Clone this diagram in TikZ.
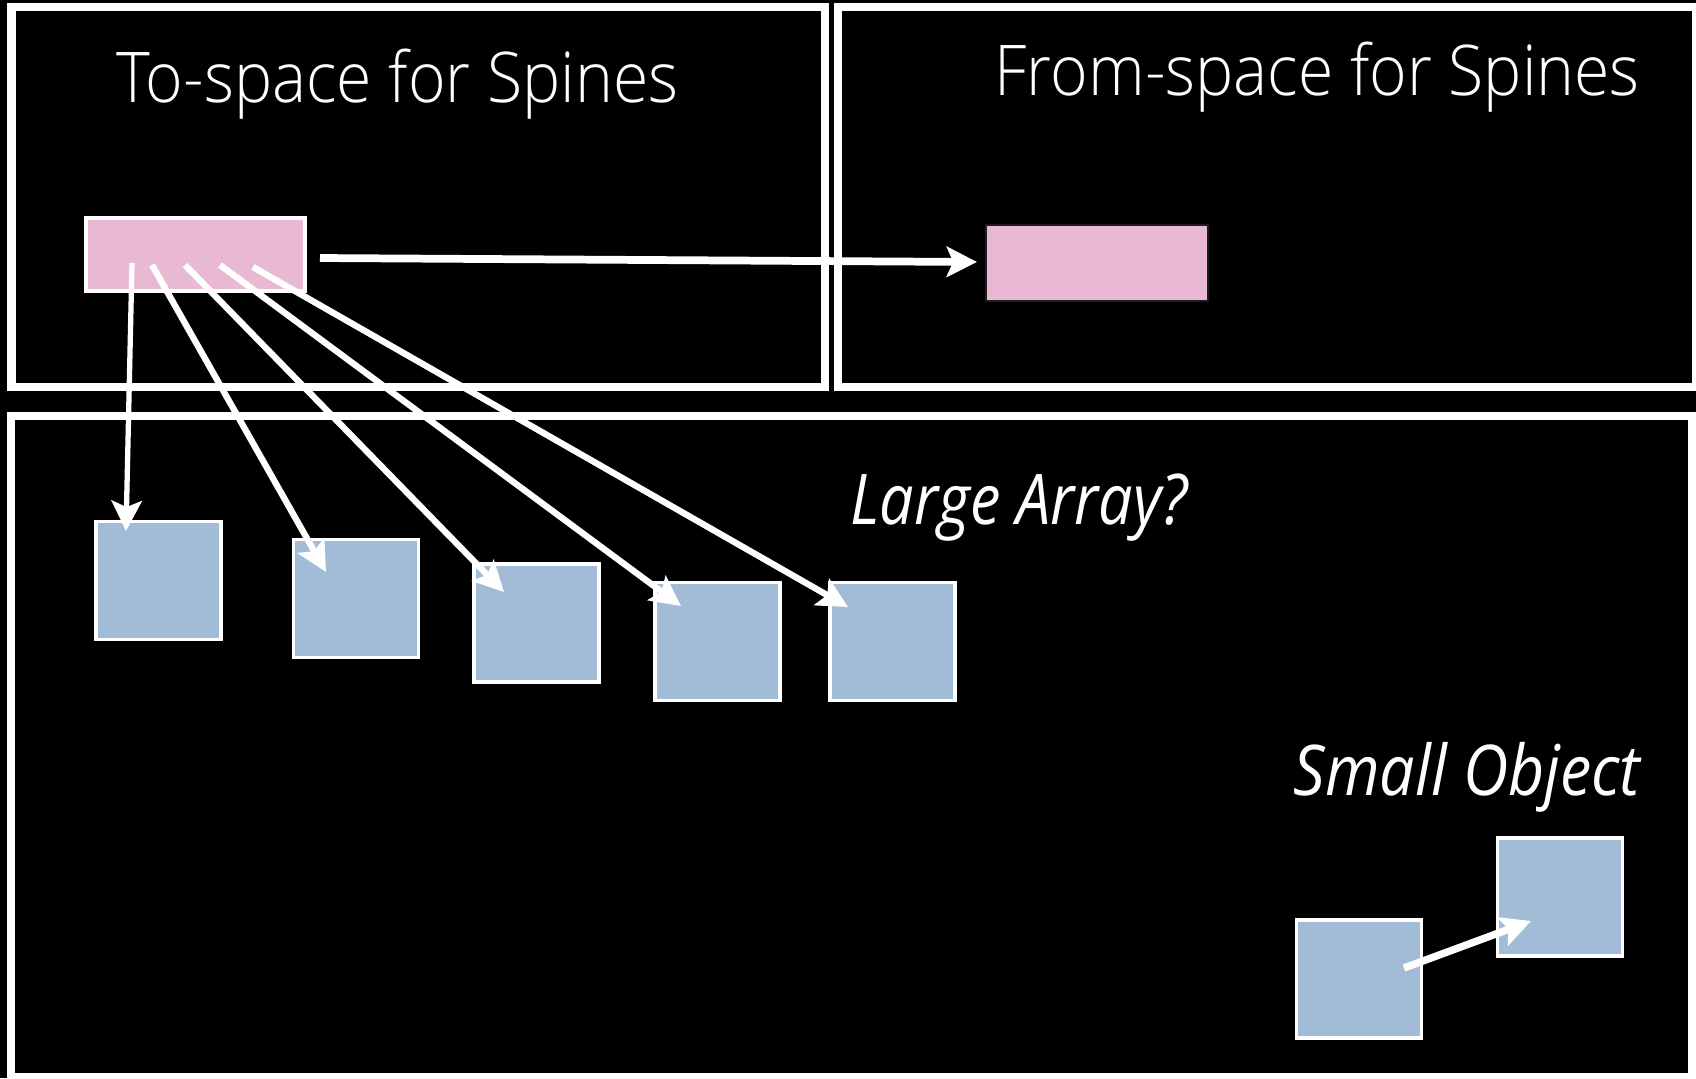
\documentclass[tikz,border=0pt]{standalone}
\usepackage{graphicx}
\usepackage{fontspec}
\setmainfont{Open Sans}
\newfontfamily\lightfont{Open Sans Light}
\usetikzlibrary{arrows.meta}
\definecolor{spinepink}{HTML}{E9B8D3}
\definecolor{cellblue}{HTML}{A2BCD8}
\definecolor{pinkedge}{HTML}{1E1E1E}
% narrow a label horizontally, keeping its height
\newcommand\narrowed[2]{\scalebox{#1}[1]{#2}}

\begin{document}
\begin{tikzpicture}[x=0.01cm, y=-0.01cm,
  frame/.style={draw=white, line width=2.42pt, inner sep=0pt},
  spinebox/.style={draw=white, fill=spinepink, line width=1.1pt, inner sep=0pt,
    minimum width=2.19cm, minimum height=0.73cm},
  oldspine/.style={draw=pinkedge, fill=spinepink, line width=0.5pt, inner sep=0pt,
    minimum width=2.22cm, minimum height=0.76cm},
  cell/.style={draw=white, fill=cellblue, line width=0.9pt, inner sep=0pt,
    minimum width=1.25cm, minimum height=1.18cm},
  ptr/.style={draw=white, line width=#1, line cap=butt,
    -{Stealth[length=8.6pt, width=8.6pt, inset=1.8pt]}},
  ptr/.default=1.75pt,
  heading/.style={text=white, inner sep=0pt, anchor=base west,
    font=\lightfont\fontsize{19.9}{24}\selectfont},
  tag/.style={text=white, inner sep=0pt, anchor=base west,
    font=\itshape\fontsize{19.9}{24}\selectfont}
]
% page and background
\useasboundingbox (0,0) rectangle (1696,1078);
\fill[black] (0,0) rectangle (1696,1078);

% the three regions
\node[frame, minimum width=8.135cm, minimum height=3.80cm] (tospace) at (418.25,197) {};
\node[frame, minimum width=8.58cm, minimum height=3.80cm] (fromspace) at (1267,197) {};
\node[frame, minimum width=16.805cm, minimum height=6.61cm] (heap) at (851.75,746.5) {};

% region titles
\node[heading] (tolabel) at (116,102) {\narrowed{0.918}{To-space for Spines}};
\node[heading] (fromlabel) at (994,95) {\narrowed{0.918}{From-space for Spines}};
\node[tag] (largelabel) at (850,524) {\narrowed{0.872}{Large Array?}};
\node[tag] (smalllabel) at (1293,795) {\narrowed{0.895}{Small Object}};

% spines
\node[spinebox] (newspine) at (195.5,254.5) {};
\node[oldspine] (oldspine) at (1097,263) {};

% array chunks
\node[cell] (c1) at (158.5,580.5) {};
\node[cell] (c2) at (356,598.5) {};
\node[cell] (c3) at (536.5,623) {};
\node[cell] (c4) at (717.5,641.5) {};
\node[cell] (c5) at (892.5,641.5) {};

% small object pair
\node[cell] (o1) at (1359,979) {};
\node[cell] (o2) at (1560,897) {};

% pointer end points
\coordinate (p1) at (132,263);
\coordinate (p2) at (152,265);
\coordinate (p3) at (185,265);
\coordinate (p4) at (220,265);
\coordinate (p5) at (253,267);
\coordinate (q1) at (126,531);
\coordinate (q2) at (326,572);
\coordinate (q3) at (504,592);
\coordinate (q4) at (681,606);
\coordinate (q5) at (848,607);
\coordinate (fwdstart) at (320,258);
\coordinate (fwdend) at (977,262);
\coordinate (objstart) at (1404,968);
\coordinate (objend) at (1531,921);

% spine pointers into the array chunks
\draw[ptr=1.5pt] (p1) -- (q1);
\draw[ptr=1.8pt] (p2) -- (q2);
\draw[ptr=1.8pt] (p3) -- (q3);
\draw[ptr=1.8pt] (p4) -- (q4);
\draw[ptr=1.8pt] (p5) -- (q5);

% forwarding pointer to the old spine
\draw[ptr=2.2pt] (fwdstart) -- (fwdend);

% small object pointer
\draw[ptr=2.1pt] (objstart) -- (objend);
\end{tikzpicture}
\end{document}
